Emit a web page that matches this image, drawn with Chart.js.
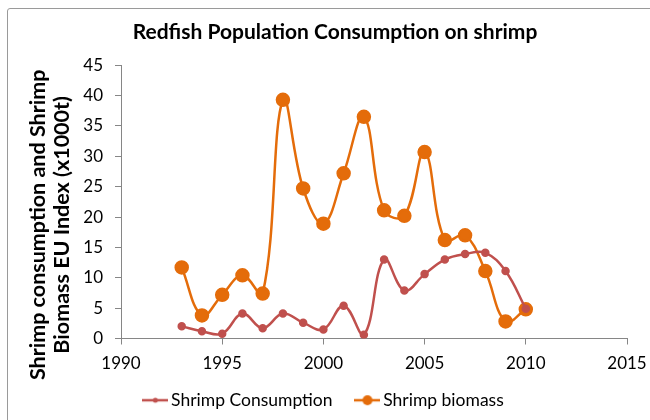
<!DOCTYPE html>
<html>
<head>
<meta charset="utf-8">
<script src="https://cdn.jsdelivr.net/npm/chart.js@4/dist/chart.umd.min.js"></script>
<style>
  html, body { margin: 0; padding: 0; background: #fff; overflow: hidden; }
  #wrap { position: relative; width: 650px; height: 420px; }
  #frame { position: absolute; left: 7px; top: 8px; width: 660px; height: 430px; border: 1px solid #9a9a9a; border-radius: 3px; pointer-events: none; }
  canvas { display: block; position: absolute; left: 0; top: 0; }
</style>
</head>
<body>
<div id="wrap">
  <div id="frame"></div>
  <canvas id="c" width="650" height="420"></canvas>
</div>
<script>
// Survey years and the two series (x1000 t)
const years = [1993, 1994, 1995, 1996, 1997, 1998, 1999, 2000, 2001, 2002, 2003, 2004, 2005, 2006, 2007, 2008, 2009, 2010];
const shrimpConsumption = [2.0, 1.2, 0.8, 4.1, 1.7, 4.1, 2.6, 1.5, 5.4, 0.6, 13.0, 7.9, 10.6, 13.0, 13.9, 14.1, 11.1, 4.9];
const shrimpBiomass = [11.7, 3.8, 7.2, 10.4, 7.4, 39.3, 24.7, 18.9, 27.2, 36.5, 21.1, 20.2, 30.7, 16.2, 17.0, 11.1, 2.8, 4.8];
const xTicks = [1990, 1995, 2000, 2005, 2010, 2015];
const yTicks = [0, 5, 10, 15, 20, 25, 30, 35, 40, 45];
const yTitleLines = ['Shrimp consumption and Shrimp', 'Biomass EU Index (x1000t)'];

const FONT = "Lato, 'Liberation Sans', sans-serif";
const RED = '#C0504D';
const ORANGE = '#E46C0A';
const AXIS = '#868686';

function pts(xs, ys) { return xs.map((x, i) => ({ x: x, y: ys[i] })); }

// Legend swatch: short line with a marker in the middle
function swatch(color, r) {
  const cv = document.createElement('canvas');
  cv.width = 26; cv.height = 12;
  const g = cv.getContext('2d');
  g.strokeStyle = color; g.lineWidth = 2.5;
  g.beginPath(); g.moveTo(0, 6); g.lineTo(26, 6); g.stroke();
  g.fillStyle = color;
  g.beginPath(); g.arc(13, 6, r, 0, Math.PI * 2); g.fill();
  return cv;
}

// Rotated two-line title for the value axis, set in the space left of the tick labels
const yAxisTitle = {
  id: 'yAxisTitle',
  afterDraw(chart) {
    const { ctx, scales: { y } } = chart;
    ctx.save();
    ctx.font = `bold 21.5px ${FONT}`;
    ctx.fillStyle = '#000';
    ctx.textAlign = 'center';
    ctx.textBaseline = 'middle';
    ctx.translate(38, (y.top + y.bottom) / 2 + 23);
    ctx.rotate(-Math.PI / 2);
    yTitleLines.forEach((line, i) => ctx.fillText(line, 0, i * 24));
    ctx.restore();
  }
};

// trailing space after each legend entry sets the spacing and centring of the row
const legendTail = ['    ', '    '];

new Chart(document.getElementById('c'), {
  type: 'scatter',
  data: {
    datasets: [
      {
        label: 'Shrimp Consumption',
        data: pts(years, shrimpConsumption),
        showLine: true,
        borderColor: RED,
        backgroundColor: RED,
        borderWidth: 2.5,
        pointRadius: 3,
        pointHoverRadius: 3,
        tension: 0.4
      },
      {
        label: 'Shrimp biomass',
        data: pts(years, shrimpBiomass),
        showLine: true,
        borderColor: ORANGE,
        backgroundColor: ORANGE,
        borderWidth: 2.5,
        pointRadius: 6,
        pointHoverRadius: 6,
        tension: 0.4
      }
    ]
  },
  plugins: [yAxisTitle],
  options: {
    responsive: false,
    animation: false,
    layout: { padding: { left: 43, right: 23, top: 12, bottom: 1 } },
    plugins: {
      tooltip: { enabled: false },
      title: {
        display: true,
        text: 'Redfish Population Consumption on shrimp',
        color: '#000',
        font: { family: FONT, size: 21, weight: 'bold', lineHeight: 1.2 },
        padding: { top: 8, bottom: 20 }
      },
      legend: {
        position: 'bottom',
        labels: {
          color: '#000',
          font: { family: FONT, size: 17.5 },
          usePointStyle: true,
          pointStyleWidth: 14,
          padding: 10,
          generateLabels: (chart) => chart.data.datasets.map((ds, i) => ({
            text: ds.label + legendTail[i],
            fillStyle: ds.borderColor,
            strokeStyle: ds.borderColor,
            pointStyle: swatch(ds.borderColor, i === 0 ? 2.5 : 5),
            lineWidth: 0,
            hidden: false,
            datasetIndex: i,
            fontColor: '#000'
          }))
        }
      }
    },
    scales: {
      x: {
        type: 'linear',
        min: 1990,
        max: 2015,
        afterBuildTicks: (axis) => { axis.ticks = xTicks.map(v => ({ value: v })); },
        afterFit: (axis) => { axis.height = 43; axis.paddingLeft = 0; axis.paddingRight = 0; },
        grid: { drawOnChartArea: false, drawTicks: true, tickLength: 6, color: AXIS },
        border: { color: AXIS, width: 1 },
        ticks: { color: '#000', font: { family: FONT, size: 17 }, padding: 9, maxRotation: 0, callback: v => String(v) }
      },
      y: {
        min: 0,
        max: 45,
        afterBuildTicks: (axis) => { axis.ticks = yTicks.map(v => ({ value: v })); },
        afterFit: (axis) => { axis.width = 78; },
        grid: { drawOnChartArea: false, drawTicks: true, tickLength: 6, color: AXIS },
        border: { color: AXIS, width: 1 },
        ticks: { color: '#000', font: { family: FONT, size: 17 }, padding: 12 }
      }
    }
  }
});
</script>
</body>
</html>
